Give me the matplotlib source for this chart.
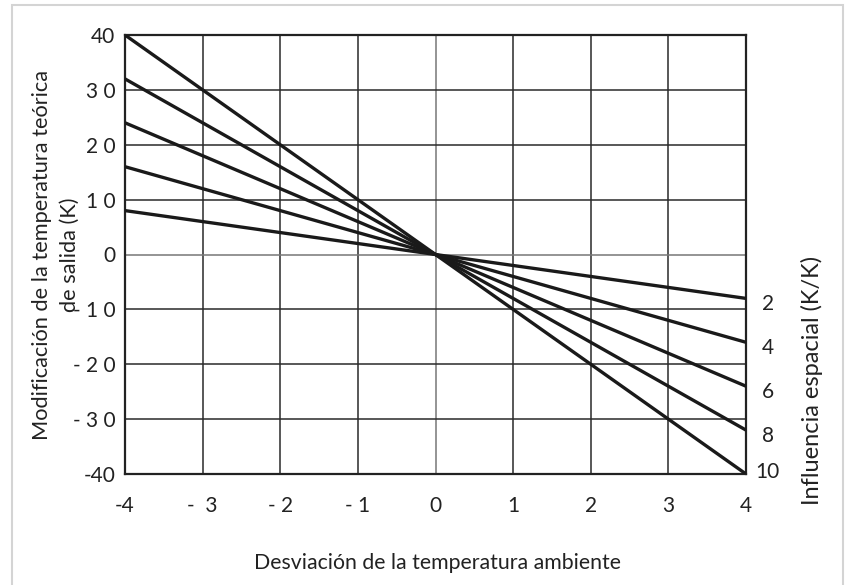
import matplotlib.pyplot as plt
from matplotlib.patches import Rectangle

plt.rcParams['font.family'] = ['Lato', 'DejaVu Sans']

# data
x_range = [-4, 4]
influence = [2, 4, 6, 8, 10]          # K/K, slope of each line is -influence
x_ticks = [-4, -3, -2, -1, 0, 1, 2, 3, 4]
x_ticklabels = ['-4', '-  3', '- 2', '- 1', '0', '1', '2', '3', '4']
y_ticks = [-40, -30, -20, -10, 0, 10, 20, 30, 40]
y_ticklabels = ['-40', '- 3 0', '- 2 0', '- 1 0', '0', '1 0', '2 0', '3 0', '40']
ylabel_lines = ['Modificación de la temperatura teórica', 'de salida (K)']

fig = plt.figure(figsize=(8.49, 5.85), dpi=100)
ax = fig.add_axes([125/849, 1-474/585, (746-125)/849, (474-35)/585])

# light frame around the whole picture
fig.patches.append(Rectangle((12/849, -0.01), (843-12)/849, 1-5/585 + 0.01,
                             transform=fig.transFigure, fill=False,
                             edgecolor='#d4d4d4', linewidth=1.5))

for x in x_ticks:
    ax.axvline(x, color='#777777' if x == 0 else '#2a2a2a', lw=1.1, zorder=1)
for y in y_ticks:
    ax.axhline(y, color='#777777' if y == 0 else '#2a2a2a', lw=1.1, zorder=1)

for k in influence:
    ys = [-k * x for x in x_range]
    ax.plot(x_range, ys, color='#1a1a1a', lw=2.4, solid_capstyle='round', zorder=3)
    ax.text(4.28, max(ys[1] - 1.0, -39.6), str(k), ha='center', va='center',
            fontsize=15, color='#222222', clip_on=False)

ax.set_xlim(-4, 4)
ax.set_ylim(-40, 40)
ax.set_xticks(x_ticks)
ax.set_xticklabels(x_ticklabels)
ax.set_yticks(y_ticks)
ax.set_yticklabels(y_ticklabels)
ax.tick_params(length=0, labelsize=15, colors='#222222')
ax.tick_params(axis='x', pad=16)
ax.tick_params(axis='y', pad=7)
for s in ax.spines.values():
    s.set_color('#222222')
    s.set_linewidth(1.6)

fig.text(437/849, 1-563/585, 'Desviación de la temperatura ambiente',
         ha='center', va='center', fontsize=15.3, color='#222222')
# two-line y label, drawn line by line
for xpix, line in zip([42, 70], ylabel_lines):
    fig.text(xpix/849, 1-255/585, line, ha='center', va='center', rotation=90,
             fontsize=15.7, color='#222222')
fig.text(812/849, 1-380/585, 'Influencia espacial (K/K)',
         ha='center', va='center', rotation=90, fontsize=17, color='#222222')

plt.savefig('out.png', dpi=100)
